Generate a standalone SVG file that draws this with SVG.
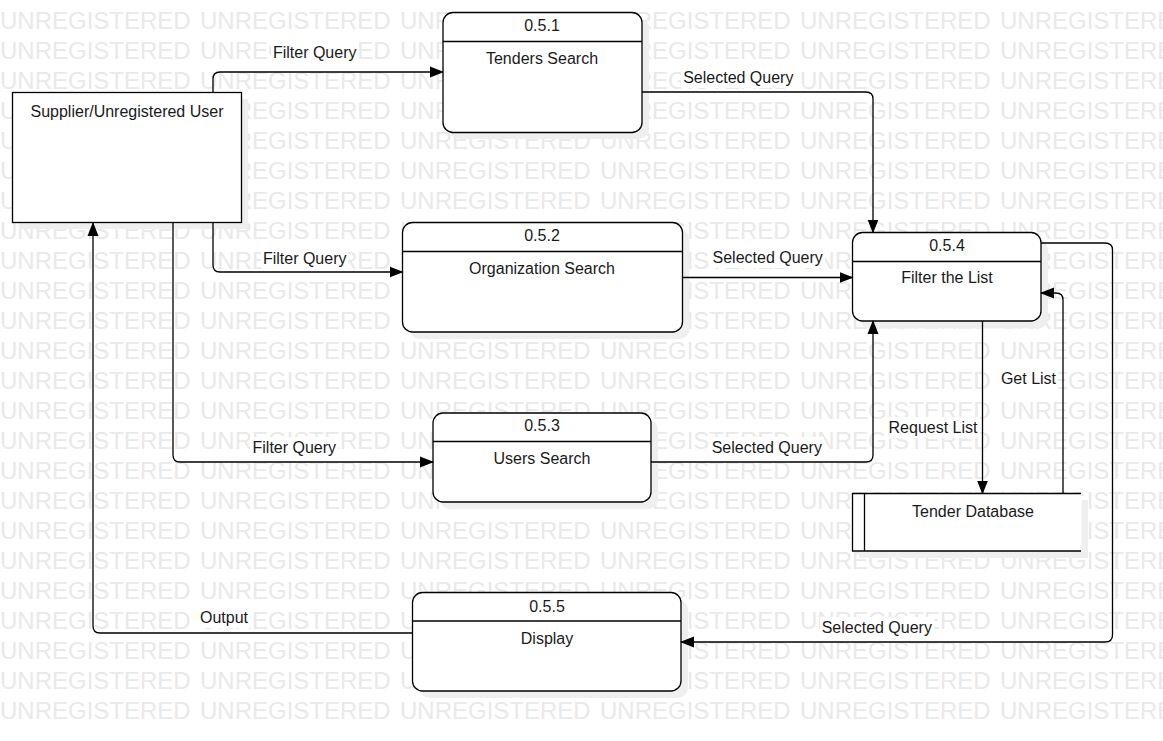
<svg xmlns="http://www.w3.org/2000/svg" xmlns:xlink="http://www.w3.org/1999/xlink" width="1163" height="741" viewBox="0 0 1163 741">
<style>
.wm{font-family:"Liberation Sans",Arial,sans-serif;font-size:24px;fill:#e9e9e9}
.box{fill:#fff;stroke:#000;stroke-width:1.3}
.shadow{fill:#efefef;stroke:none}
.hdr{stroke:#000;stroke-width:1.3;fill:none}
.t{font-family:"Liberation Sans",Arial,sans-serif;font-size:16px;fill:#1a1a1a;text-anchor:middle}
.edge{fill:none;stroke:#000;stroke-width:1.3;marker-end:url(#arr)}
.lblbg{fill:#fff}
</style>
<defs>
<marker id="arr" markerUnits="userSpaceOnUse" markerWidth="14" markerHeight="12" refX="13" refY="5.5" orient="auto" viewBox="0 0 14 11">
<path d="M0,0 L14,5.5 L0,11 Z" fill="#000"/>
</marker>
<text id="wmrow" class="wm"><tspan x="0">UNREGISTERED</tspan><tspan x="200">UNREGISTERED</tspan><tspan x="400">UNREGISTERED</tspan><tspan x="600">UNREGISTERED</tspan><tspan x="800">UNREGISTERED</tspan><tspan x="1000">UNREGISTERED</tspan></text>
</defs>
<rect width="1163" height="741" fill="#fff"/>
<g id="watermark">
<use xlink:href="#wmrow" y="29"/><use xlink:href="#wmrow" y="59"/><use xlink:href="#wmrow" y="89"/><use xlink:href="#wmrow" y="119"/>
<use xlink:href="#wmrow" y="149"/><use xlink:href="#wmrow" y="179"/><use xlink:href="#wmrow" y="209"/><use xlink:href="#wmrow" y="239"/>
<use xlink:href="#wmrow" y="269"/><use xlink:href="#wmrow" y="299"/><use xlink:href="#wmrow" y="329"/><use xlink:href="#wmrow" y="359"/>
<use xlink:href="#wmrow" y="389"/><use xlink:href="#wmrow" y="419"/><use xlink:href="#wmrow" y="449"/><use xlink:href="#wmrow" y="479"/>
<use xlink:href="#wmrow" y="509"/><use xlink:href="#wmrow" y="539"/><use xlink:href="#wmrow" y="569"/><use xlink:href="#wmrow" y="599"/>
<use xlink:href="#wmrow" y="629"/><use xlink:href="#wmrow" y="659"/><use xlink:href="#wmrow" y="689"/><use xlink:href="#wmrow" y="719"/>
</g>
<g id="node-supplier">
<rect class="shadow" x="19" y="99" width="229" height="130"/>
<rect class="box" x="12.5" y="92.5" width="229" height="130"/>
<text class="t" x="127" y="117">Supplier/Unregistered User</text>
</g>
<g id="node-0.5.1">
<rect class="shadow" x="450" y="19" width="199" height="120" rx="10"/>
<rect class="box" x="443" y="12.5" width="199" height="120" rx="10"/>
<line class="hdr" x1="443" y1="41.5" x2="642" y2="41.5"/>
<text class="t" x="542" y="31">0.5.1</text>
<text class="t" x="542" y="64">Tenders Search</text>
</g>
<g id="node-0.5.2">
<rect class="shadow" x="409.5" y="229" width="280" height="110" rx="10"/>
<rect class="box" x="402.5" y="222.5" width="280" height="109.5" rx="10"/>
<line class="hdr" x1="402.5" y1="251.5" x2="682.5" y2="251.5"/>
<text class="t" x="542" y="241">0.5.2</text>
<text class="t" x="542" y="274">Organization Search</text>
</g>
<g id="node-0.5.3">
<rect class="shadow" x="440" y="420" width="218" height="89" rx="10"/>
<rect class="box" x="433" y="413" width="218" height="89" rx="10"/>
<line class="hdr" x1="433" y1="441.5" x2="651" y2="441.5"/>
<text class="t" x="542" y="431">0.5.3</text>
<text class="t" x="542" y="464">Users Search</text>
</g>
<g id="node-0.5.4">
<rect class="shadow" x="859.5" y="239.5" width="188.5" height="89" rx="10"/>
<rect class="box" x="852.5" y="232.5" width="188.5" height="88.5" rx="10"/>
<line class="hdr" x1="852.5" y1="261.5" x2="1041" y2="261.5"/>
<text class="t" x="947" y="251">0.5.4</text>
<text class="t" x="947" y="283">Filter the List</text>
</g>
<g id="node-0.5.5">
<rect class="shadow" x="419.5" y="599.5" width="268.5" height="98.5" rx="10"/>
<rect class="box" x="412.5" y="592.5" width="268.5" height="98.5" rx="10"/>
<line class="hdr" x1="412.5" y1="621" x2="681" y2="621"/>
<text class="t" x="547" y="612">0.5.5</text>
<text class="t" x="547" y="644">Display</text>
</g>
<g id="node-tender-db">
<rect class="shadow" x="859" y="500" width="229" height="58"/>
<rect x="852.5" y="493.5" width="229" height="57.5" fill="#fff"/>
<path class="hdr" d="M1081,493.5 H852.5 V551 H1081 M864.5,493.5 V551"/>
<text class="t" x="973" y="517">Tender Database</text>
</g>
<g id="connectors">
<path class="edge" d="M213,92 V79 Q213,72 220,72 H443"/>
<path class="edge" d="M213,223 V265 Q213,272 220,272 H402.5"/>
<path class="edge" d="M173,223 V455 Q173,462 180,462 H433"/>
<path class="edge" d="M412.5,633 H100 Q93,633 93,626 V223"/>
<path class="edge" d="M642,92 H866 Q873,92 873,99 V232.5"/>
<path class="edge" d="M682.5,277.5 H852.5"/>
<path class="edge" d="M651,462 H866 Q873,462 873,455 V321"/>
<path class="edge" d="M982.5,321 V493.5"/>
<path class="edge" d="M1063,493.5 V300 Q1063,293 1056,293 H1041"/>
<path class="edge" d="M1041,243 H1105 Q1112.5,243 1112.5,250 V635 Q1112.5,642 1105,642 H681"/>
</g>
<g id="labels">
<rect class="lblbg" x="271" y="42" width="87" height="21"/><text class="t" x="314.7" y="58">Filter Query</text>
<rect class="lblbg" x="261" y="248" width="87" height="21"/><text class="t" x="304.7" y="264">Filter Query</text>
<rect class="lblbg" x="250" y="437" width="88" height="21"/><text class="t" x="294.3" y="453">Filter Query</text>
<rect class="lblbg" x="681" y="67" width="115" height="21"/><text class="t" x="738.3" y="83">Selected Query</text>
<rect class="lblbg" x="710" y="247" width="115" height="21"/><text class="t" x="767.7" y="263">Selected Query</text>
<rect class="lblbg" x="709" y="437" width="115" height="21"/><text class="t" x="766.8" y="453">Selected Query</text>
<rect class="lblbg" x="820" y="617" width="114" height="21"/><text class="t" x="876.8" y="633">Selected Query</text>
<rect class="lblbg" x="886" y="417" width="94" height="21"/><text class="t" x="933" y="433">Request List</text>
<rect class="lblbg" x="999" y="368" width="59" height="21"/><text class="t" x="1028.5" y="384">Get List</text>
<rect class="lblbg" x="198" y="607" width="52" height="21"/><text class="t" x="224" y="623">Output</text>
</g>
</svg>
